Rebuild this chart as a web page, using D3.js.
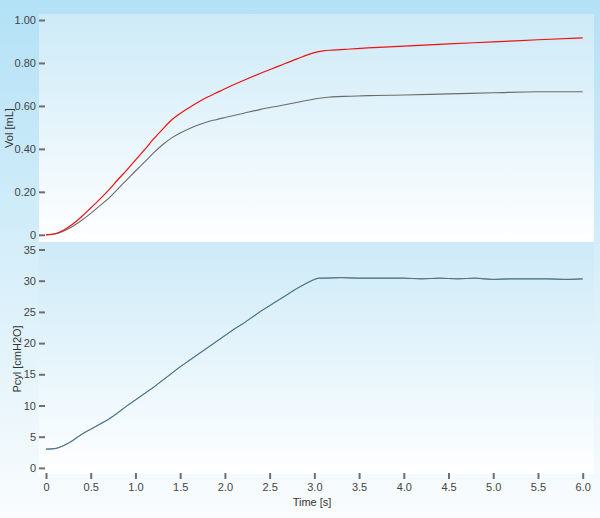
<!DOCTYPE html>
<html>
<head>
<meta charset="utf-8">
<script src="https://cdn.jsdelivr.net/npm/d3@7"></script>
<style>
  body { margin: 0; padding: 0; }
  svg { display: block; font-family: "Liberation Sans", Arial, sans-serif; }
  .tick line { stroke: #6f6f6f; stroke-width: 2; }
  .tick text { fill: #444; font-size: 11px; }
  .axis-title { fill: #333; font-size: 11px; }
</style>
</head>
<body>
<div class="drawing"></div>
<script>
// Volume curves (top panel)
var volTime = [0, 0.1, 0.2, 0.3, 0.4, 0.5, 0.6, 0.7, 0.8, 0.9, 1.0, 1.1, 1.2, 1.3, 1.4, 1.5,
               1.6, 1.7, 1.8, 1.9, 2.0, 2.2, 2.4, 2.6, 2.8, 3.0, 3.1, 3.2, 3.4, 3.6, 4.0,
               4.5, 5.0, 5.5, 6.0];
var volRed = [0, 0.005, 0.022, 0.05, 0.085, 0.125, 0.165, 0.208, 0.255, 0.3, 0.348, 0.395,
              0.445, 0.49, 0.533, 0.565, 0.592, 0.617, 0.64, 0.66, 0.68, 0.717, 0.752, 0.785,
              0.818, 0.848, 0.856, 0.86, 0.865, 0.87, 0.878, 0.889, 0.898, 0.908, 0.917];
var volGray = [0, 0.004, 0.018, 0.04, 0.068, 0.1, 0.135, 0.17, 0.212, 0.255, 0.297, 0.338,
               0.38, 0.418, 0.45, 0.474, 0.494, 0.511, 0.525, 0.536, 0.546, 0.565, 0.584, 0.6,
               0.616, 0.632, 0.638, 0.642, 0.645, 0.648, 0.651, 0.656, 0.661, 0.666, 0.666];

// Cylinder pressure (bottom panel)
var pTime = [0, 0.1, 0.2, 0.3, 0.4, 0.5, 0.6, 0.7, 0.8, 0.9, 1.0, 1.1, 1.2, 1.3, 1.4, 1.5,
             1.6, 1.7, 1.8, 1.9, 2.0, 2.1, 2.2, 2.3, 2.4, 2.5, 2.6, 2.7, 2.8, 2.9, 3.0, 3.05,
             3.1, 3.3, 3.5, 3.8, 4.0, 4.2, 4.4, 4.6, 4.8, 5.0, 5.2, 5.4, 5.6, 5.8, 6.0];
var pcyl = [3.0, 3.1, 3.6, 4.4, 5.4, 6.2, 7.0, 7.8, 8.8, 9.9, 10.9, 11.9, 12.9, 14.0, 15.1, 16.2,
            17.2, 18.2, 19.2, 20.2, 21.2, 22.2, 23.1, 24.1, 25.1, 26.0, 26.9, 27.8, 28.7, 29.5, 30.2, 30.4,
            30.4, 30.5, 30.4, 30.4, 30.4, 30.3, 30.4, 30.3, 30.4, 30.2, 30.3, 30.3, 30.3, 30.2, 30.3];

// Tick values
var volTicks = [0, 0.2, 0.4, 0.6, 0.8, 1.0];
var pTicks = [0, 5, 10, 15, 20, 25, 30, 35];
var timeTicks = [0, 0.5, 1.0, 1.5, 2.0, 2.5, 3.0, 3.5, 4.0, 4.5, 5.0, 5.5, 6.0];

var width = 600, height = 518;

var svg = d3.select(".drawing").append("svg")
    .attr("width", width)
    .attr("height", height);

var defs = svg.append("defs");
function vGradient(id, top, bottom) {
    var g = defs.append("linearGradient")
	.attr("id", id)
	.attr("x1", 0).attr("y1", 0).attr("x2", 0).attr("y2", 1);
    g.append("stop").attr("offset", "0%").attr("stop-color", top);
    g.append("stop").attr("offset", "100%").attr("stop-color", bottom);
}
vGradient("bgGrad", "#b3e1f6", "#fafcfd");
vGradient("plotGrad", "#cdeaf7", "#ffffff");

svg.append("rect")
    .attr("width", width).attr("height", height)
    .attr("fill", "url(#bgGrad)");

// plot areas
svg.append("rect")
    .attr("x", 39).attr("y", 14).attr("width", 555).attr("height", 228)
    .attr("fill", "url(#plotGrad)");
svg.append("rect")
    .attr("x", 39).attr("y", 242).attr("width", 555).attr("height", 232)
    .attr("fill", "url(#plotGrad)");

// scales
var x = d3.scaleLinear().domain([0, 6]).range([46, 582.7]);
var yVol = d3.scaleLinear().domain([0, 1]).range([234.8, 20]);
var yP = d3.scaleLinear().domain([0, 35]).range([467.9, 249.5]);

// axes
var volAxis = svg.append("g")
    .attr("transform", "translate(45,0)")
    .call(d3.axisLeft(yVol).tickValues(volTicks).tickSize(6).tickPadding(3)
	  .tickFormat(function(d) { return d === 0 ? "0" : d3.format(".2f")(d); }));
volAxis.select(".domain").remove();

var pAxis = svg.append("g")
    .attr("transform", "translate(45,0)")
    .call(d3.axisLeft(yP).tickValues(pTicks).tickSize(6).tickPadding(3)
	  .tickFormat(d3.format("d")));
pAxis.select(".domain").remove();

var tAxis = svg.append("g")
    .attr("transform", "translate(0,473)")
    .call(d3.axisBottom(x).tickValues(timeTicks).tickSize(6).tickPadding(4)
	  .tickFormat(function(d) { return d === 0 ? "0" : d3.format(".1f")(d); }));
tAxis.select(".domain").remove();

svg.selectAll(".tick text").attr("font-family", null).attr("font-size", null);

// axis titles
svg.append("text")
    .attr("class", "axis-title")
    .attr("transform", "translate(13,128) rotate(-90)")
    .attr("text-anchor", "middle")
    .text("Vol [mL]");
svg.append("text")
    .attr("class", "axis-title")
    .attr("transform", "translate(21,359) rotate(-90)")
    .attr("text-anchor", "middle")
    .text("Pcyl [cmH2O]");
svg.append("text")
    .attr("class", "axis-title")
    .attr("x", 312).attr("y", 506)
    .attr("text-anchor", "middle")
    .text("Time [s]");

// lines
function drawLine(ts, vs, yScale, color, w) {
    var line = d3.line()
	.x(function(d) { return x(d[0]); })
	.y(function(d) { return yScale(d[1]); })
	.curve(d3.curveMonotoneX);
    svg.append("path")
	.attr("fill", "none")
	.attr("stroke", color)
	.attr("stroke-width", w)
	.attr("d", line(d3.zip(ts, vs)));
}

drawLine(volTime, volGray, yVol, "#6b6b6b", 1.1);
drawLine(volTime, volRed, yVol, "#f01010", 1.2);
drawLine(pTime, pcyl, yP, "#4aa6d0", 1.2);
drawLine(pTime, pcyl, yP, "#676b6d", 1.0);
</script>
</body>
</html>
